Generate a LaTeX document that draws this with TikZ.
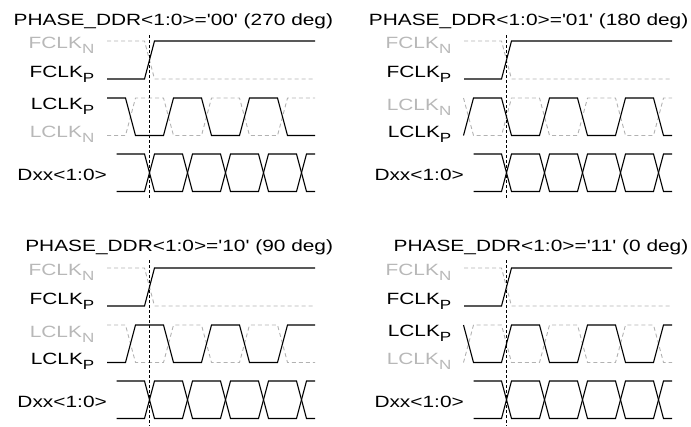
\documentclass[tikz,border=0pt]{standalone}
\usepackage{fontspec}
\setmainfont{Liberation Sans}[Ligatures=TeXOff]
\usepackage{graphicx}
\definecolor{lgray}{gray}{0.72}
\definecolor{dgray}{gray}{0.70}
\tikzset{
  wave/.style={line width=1.1pt, black, line join=miter},
  ghost/.style={line width=0.9pt, dgray, dash pattern=on 4pt off 3pt},
  vmark/.style={line width=0.9pt, black, dash pattern=on 3pt off 2pt},
  lbl/.style={anchor=base east, inner sep=0pt, font=\fontsize{16.3}{19}\selectfont},
  glbl/.style={lbl, text=lgray},
}
\newcommand\sx[1]{\scalebox{1.28}[1]{#1}}
\newcommand\sig[2]{\sx{#1\raisebox{-5pt}{\fontsize{13.3}{13}\selectfont #2}}}
\newcommand\drawData{%
  \draw[wave] (-33,154) -- (-5,154) -- (5,191.5) -- (33,191.5) -- (43,154) -- (71,154) -- (81,191.5) -- (109,191.5) -- (119,154) -- (147,154) -- (157,191.5) -- (165.5,191.5);
  \draw[wave] (-33,191.5) -- (-5,191.5) -- (5,154) -- (33,154) -- (43,191.5) -- (71,191.5) -- (81,154) -- (109,154) -- (119,191.5) -- (147,191.5) -- (157,154) -- (165.5,154);}
\newcommand\drawFclk{%
  \draw[ghost] (-42.5,41) -- (-5,41) -- (5,79) -- (165.5,79);
  \draw[wave] (-42.5,79) -- (-5,79) -- (5,41) -- (165.5,41);}
\newcommand\lclkA[3]{\draw[#1] (-42.5,#2) -- (-24,#2) -- (-14,#3) -- (14,#3) -- (24,#2) -- (52,#2) -- (62,#3) -- (90,#3) -- (100,#2) -- (128,#2) -- (138,#3) -- (165.5,#3);}
\newcommand\lclkB[3]{\draw[#1] (-43,#2) -- (-33,#3) -- (-5,#3) -- (5,#2) -- (33,#2) -- (43,#3) -- (71,#3) -- (81,#2) -- (109,#2) -- (119,#3) -- (147,#3) -- (157,#2) -- (165.5,#2);}
\newcommand\vmarkline{\draw[vmark] (0,35) -- (0,199.5);}
\begin{document}
\begin{tikzpicture}[x=1pt,y=-1pt]
\useasboundingbox (0,0) rectangle (691,426);
% titles
\node[lbl] (t1) at (333.3,25.5) {\sx{PHASE\_DDR<1:0>='00' (270 deg)}};
\node[lbl] (t2) at (688.5,25.5) {\sx{PHASE\_DDR<1:0>='01' (180 deg)}};
\node[lbl] (t3) at (333.3,251.5) {\sx{PHASE\_DDR<1:0>='10' (90 deg)}};
\node[lbl] (t4) at (688.5,251.5) {\sx{PHASE\_DDR<1:0>='11' (0 deg)}};
% panel 1 : 270 deg
\begin{scope}[shift={(149.5,0)}]
  \node[glbl] (fn1) at (-55,48.3) {\sig{FCLK}{N}};
  \node[lbl]  (fp1) at (-55,77.3) {\sig{FCLK}{P}};
  \node[lbl]  (lp1) at (-55,109.3) {\sig{LCLK}{P}};
  \node[glbl] (ln1) at (-55,137) {\sig{LCLK}{N}};
  \node[lbl]  (d1)  at (-42.5,180) {\sx{Dxx<1:0>}};
  \drawFclk
  \lclkA{ghost}{135.5}{98}
  \lclkA{wave}{98}{135.5}
  \drawData
  \vmarkline
\end{scope}
% panel 2 : 180 deg
\begin{scope}[shift={(506.5,0)}]
  \node[glbl] (fn2) at (-55,48.3) {\sig{FCLK}{N}};
  \node[lbl]  (fp2) at (-55,77.3) {\sig{FCLK}{P}};
  \node[glbl] (ln2) at (-55,110) {\sig{LCLK}{N}};
  \node[lbl]  (lp2) at (-55,137.3) {\sig{LCLK}{P}};
  \node[lbl]  (d2)  at (-42.5,180) {\sx{Dxx<1:0>}};
  \drawFclk
  \lclkB{ghost}{98}{135.5}
  \lclkB{wave}{135.5}{98}
  \drawData
  \vmarkline
\end{scope}
% panel 3 : 90 deg
\begin{scope}[shift={(149.5,227)}]
  \node[glbl] (fn3) at (-55,48.3) {\sig{FCLK}{N}};
  \node[lbl]  (fp3) at (-55,77.3) {\sig{FCLK}{P}};
  \node[glbl] (ln3) at (-55,110.5) {\sig{LCLK}{N}};
  \node[lbl]  (lp3) at (-55,137.5) {\sig{LCLK}{P}};
  \node[lbl]  (d3)  at (-42.5,180) {\sx{Dxx<1:0>}};
  \drawFclk
  \lclkA{ghost}{98}{135.5}
  \lclkA{wave}{135.5}{98}
  \drawData
  \draw[vmark] (0,33) -- (0,199);
\end{scope}
% panel 4 : 0 deg
\begin{scope}[shift={(506.5,227)}]
  \node[glbl] (fn4) at (-55,48.3) {\sig{FCLK}{N}};
  \node[lbl]  (fp4) at (-55,77.3) {\sig{FCLK}{P}};
  \node[lbl]  (lp4) at (-55,109.5) {\sig{LCLK}{P}};
  \node[glbl] (ln4) at (-55,137) {\sig{LCLK}{N}};
  \node[lbl]  (d4)  at (-42.5,180) {\sx{Dxx<1:0>}};
  \drawFclk
  \lclkB{ghost}{135.5}{98}
  \lclkB{wave}{98}{135.5}
  \drawData
  \draw[vmark] (0,33) -- (0,199);
\end{scope}
\end{tikzpicture}
\end{document}
